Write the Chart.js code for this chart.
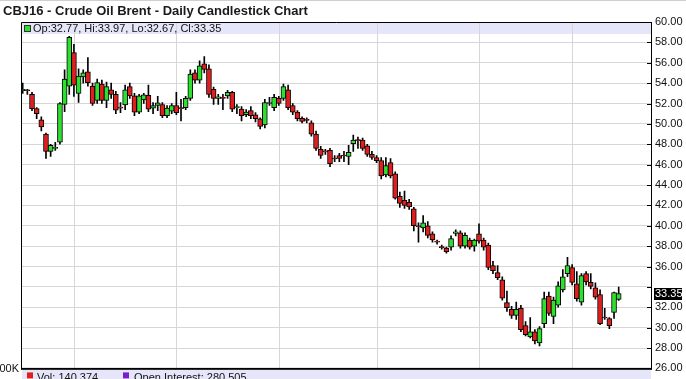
<!DOCTYPE html>
<html><head><meta charset="utf-8">
<script src="https://cdn.jsdelivr.net/npm/chart.js@4.4.1/dist/chart.umd.min.js"></script>
<style>html,body{margin:0;padding:0;background:#fff;overflow:hidden}#wrap{width:686px;height:379px;position:relative}</style>
</head><body><div id="wrap"><canvas id="c" width="686" height="379"></canvas></div>
<script>
const chartTitle = 'CBJ16 - Crude Oil Brent - Daily Candlestick Chart';
const opens = [53.25,53.3,52.9,51.5,50.4,49.0,47.3,47.6,48.2,51.9,53.7,57.0,53.0,54.6,55.1,53.7,52.3,53.9,52.3,53.35,52.9,51.65,51.85,53.65,52.75,
51.15,52.35,52.8,51.55,51.8,51.9,50.8,51.25,51.8,51.55,51.6,52.5,55.0,54.3,55.9,55.4,53.4,52.5,52.55,52.75,53.1,51.6,51.45,50.9,51.3,50.9,50.5,
49.9,52.0,51.6,52.5,52.5,53.35,51.8,51.15,50.55,50.4,50.1,49.0,47.5,47.3,47.4,46.6,46.9,46.9,46.8,48.05,48.4,48.4,47.85,47.0,46.7,46.4,
45.0,46.2,45.1,42.9,42.5,42.3,41.65,39.95,39.8,40.0,39.2,38.45,37.95,37.8,37.9,39.25,39.3,38.0,38.6,38.0,39.2,38.6,38.1,36.1,
35.4,34.7,32.45,31.8,31.2,31.9,30.2,29.1,29.6,28.5,30.4,33.1,31.1,32.2,33.7,35.3,35.9,34.3,32.5,35.3,34.45,33.9,33.25,31.0,30.9,31.5,32.77];
const highs = [54.0,53.4,53.1,51.6,50.7,49.1,48.0,48.2,52.1,55.3,58.6,57.8,55.4,55.3,56.5,54.0,54.4,54.3,54.1,54.0,53.2,52.1,53.8,54.0,53.0,
52.9,53.0,53.8,52.1,52.7,52.1,51.8,52.0,53.1,52.4,52.7,55.3,55.3,56.2,56.6,55.8,53.6,52.9,52.9,53.3,53.2,51.9,51.7,51.4,51.7,51.1,50.6,
52.4,52.6,52.9,52.7,53.9,53.8,52.0,51.3,50.7,50.6,50.3,49.3,47.8,47.5,47.6,46.9,47.1,47.3,47.9,48.9,48.7,48.6,48.0,47.3,46.9,46.7,
46.7,46.6,45.3,43.3,43.4,42.6,41.8,40.3,41.0,40.4,39.4,38.6,38.1,37.9,39.0,39.6,39.5,39.3,38.8,38.7,40.2,38.8,38.3,36.5,
36.1,35.0,33.6,32.1,32.5,32.2,30.6,31.0,29.8,30.1,33.5,33.5,33.0,34.5,35.7,36.9,36.2,35.5,35.3,35.5,35.3,34.4,33.7,31.9,31.0,33.5,33.97];
const lows = [53.0,52.9,51.3,50.5,49.3,46.6,46.8,47.4,48.0,51.2,52.9,52.7,52.1,54.0,53.7,51.8,52.0,52.0,51.6,52.5,51.0,51.1,51.4,52.5,50.8,
51.0,52.0,51.2,51.0,51.3,50.6,50.6,51.0,50.9,50.3,51.4,52.3,54.0,54.0,55.0,52.6,51.9,51.9,51.4,52.5,51.2,51.0,50.3,50.7,50.5,50.2,49.5,
49.6,51.8,51.3,51.8,52.3,51.4,50.9,50.3,50.1,50.1,48.8,47.4,46.6,47.0,45.8,46.3,46.3,46.3,46.0,47.3,47.6,47.4,46.8,46.5,46.2,44.6,
44.8,44.7,42.6,41.8,41.7,41.6,39.5,38.4,39.4,38.8,38.4,38.2,37.7,37.3,37.6,39.0,37.8,37.8,37.7,37.5,38.3,37.6,35.7,35.3,
34.7,32.7,31.6,30.9,30.8,29.6,29.2,29.0,28.4,28.2,30.0,31.2,30.4,32.0,33.5,35.0,34.2,32.6,32.2,34.2,33.8,32.8,30.3,30.8,29.9,30.9,32.67];
const closes = [53.4,53.25,51.5,51.0,49.7,47.3,47.9,47.7,52.0,54.4,58.5,53.8,54.7,55.0,54.05,52.0,54.05,52.3,53.65,52.9,51.35,51.55,53.35,52.75,51.15,
52.75,52.85,51.45,51.8,52.07,50.8,51.55,51.8,51.1,51.5,52.5,54.9,54.3,55.7,55.35,52.9,52.5,52.65,52.5,53.1,51.45,51.6,50.8,51.15,50.8,50.5,49.75,
52.1,52.05,52.6,52.0,53.65,51.6,51.15,50.5,50.25,50.35,49.0,47.6,46.9,47.25,46.1,46.55,46.6,46.85,47.2,48.4,48.35,47.6,47.0,46.7,46.4,44.9,
45.9,44.9,42.7,42.2,42.0,41.85,40.0,39.9,40.3,39.05,38.6,38.4,37.85,37.45,38.75,39.4,38.0,39.05,37.9,38.6,38.5,37.9,35.9,35.6,
34.9,32.9,31.95,31.2,31.8,29.8,29.3,29.6,28.7,29.9,32.85,31.4,32.7,34.1,35.0,36.1,34.45,32.85,35.1,34.5,34.05,33.0,30.4,30.95,30.2,33.45,33.35];
const monthStarts = [11,33,55,76,98,118];
const yMin = 26, yMax = 60, yStep = 2;
const volumeLabel = 'Vol: 140,374';
const oiLabel = 'Open Interest: 280,505';
const volAxisLabel = '00K';

const GREEN = '#2ee02e', RED = '#e01e1e', BAND = '#e6e6fa', GRID = '#d6d6d6';
const FONT = '"Liberation Sans", Arial, sans-serif';
const n = closes.length;
const last = n - 1;
const ohlcText = 'Op:' + opens[last].toFixed(2) + ', Hi:' + highs[last].toFixed(2) + ', Lo:' + lows[last].toFixed(2) + ', Cl:' + closes[last].toFixed(2);

const bodies = opens.map((o, i) => ({x: i, y: [o, closes[i]]}));
const wicks = lows.map((l, i) => ({x: i, y: [l, highs[i]]}));
const bodyColors = opens.map((o, i) => closes[i] >= o ? GREEN : RED);

const deco = {
  id: 'deco',
  beforeDraw(chart) {
    const ctx = chart.ctx, a = chart.chartArea;
    ctx.save();
    ctx.fillStyle = '#fff';
    ctx.fillRect(0, 0, chart.width, chart.height);
    ctx.strokeStyle = '#cfcfcf';
    ctx.lineWidth = 1;
    ctx.beginPath(); ctx.moveTo(0, 0.5); ctx.lineTo(chart.width, 0.5); ctx.stroke();
    ctx.fillStyle = '#1a1a1a';
    ctx.font = 'bold 13px ' + FONT;
    ctx.textBaseline = 'alphabetic';
    ctx.textAlign = 'left';
    ctx.fillText(chartTitle, 3, 15);
    ctx.fillStyle = BAND;
    ctx.fillRect(a.left, a.top, a.right - a.left, 12);
    ctx.restore();
  },
  beforeDatasetsDraw(chart) {
    const ctx = chart.ctx, a = chart.chartArea, xs = chart.scales.x;
    ctx.save();
    ctx.strokeStyle = GRID;
    ctx.lineWidth = 1;
    ctx.beginPath();
    monthStarts.forEach(v => {
      const x = Math.round(xs.getPixelForValue(v)) + 0.5;
      ctx.moveTo(x, a.top); ctx.lineTo(x, a.bottom);
    });
    ctx.stroke();
    ctx.restore();
  },
  afterDraw(chart) {
    const ctx = chart.ctx, a = chart.chartArea, ys = chart.scales.y;
    ctx.save();
    ctx.strokeStyle = '#000';
    ctx.lineWidth = 1;
    ctx.beginPath();
    ctx.moveTo(a.left + 0.5, a.bottom); ctx.lineTo(a.left + 0.5, a.top + 0.5); ctx.lineTo(a.right, a.top + 0.5);
    ctx.stroke();
    ctx.beginPath();
    for (let v = yMin; v <= yMax; v += yStep) {
      const y = Math.round(ys.getPixelForValue(v)) + 0.5;
      ctx.moveTo(a.right - 4, y); ctx.lineTo(a.right, y);
    }
    ctx.stroke();
    ctx.fillStyle = GREEN;
    ctx.fillRect(a.left + 3.5, a.top + 3.5, 6, 6);
    ctx.strokeStyle = '#333';
    ctx.strokeRect(a.left + 3.5, a.top + 3.5, 6, 6);
    ctx.fillStyle = '#111';
    ctx.font = '11px ' + FONT;
    ctx.textBaseline = 'middle';
    ctx.fillText(ohlcText, a.left + 12, a.top + 6.5);
    const ly = ys.getPixelForValue(closes[last]);
    ctx.fillStyle = '#000';
    ctx.fillRect(a.right + 3, Math.round(ly) - 6, 28, 12);
    ctx.fillStyle = '#fff';
    ctx.textAlign = 'left';
    ctx.fillText(closes[last].toFixed(2), a.right + 4, ly + 0.5);
    ctx.fillStyle = '#000';
    ctx.fillRect(a.left, a.bottom - 0.5, a.right - a.left + 1, 2);
    ctx.fillStyle = BAND;
    ctx.fillRect(a.left + 1, a.bottom + 1.5, a.right - a.left - 1, chart.height - a.bottom);
    ctx.fillStyle = RED;
    ctx.fillRect(a.left + 6, a.bottom + 4, 6, 6);
    ctx.fillStyle = '#7a1fd0';
    ctx.fillRect(a.left + 102, a.bottom + 4, 6, 6);
    ctx.fillStyle = '#111';
    ctx.textBaseline = 'top';
    ctx.fillText(volumeLabel, a.left + 16, a.bottom + 4.5);
    ctx.fillText(oiLabel, a.left + 113, a.bottom + 4.5);
    ctx.textAlign = 'right';
    ctx.textBaseline = 'middle';
    ctx.fillText(volAxisLabel, a.left - 2, a.bottom + 1);
    ctx.restore();
  }
};

new Chart(document.getElementById('c'), {
  type: 'bar',
  data: {
    datasets: [
      {label: 'body', data: bodies, backgroundColor: bodyColors, borderColor: '#000', borderWidth: 1,
       borderSkipped: false, barThickness: 5, minBarLength: 1, grouped: false},
      {label: 'wick', data: wicks, backgroundColor: '#000', borderWidth: 0, barThickness: 1, grouped: false}
    ]
  },
  options: {
    responsive: false,
    animation: false,
    devicePixelRatio: 1,
    layout: {padding: {top: 22, left: 21, right: 0, bottom: 7}},
    plugins: {legend: {display: false}, tooltip: {enabled: false}, title: {display: false}},
    scales: {
      x: {
        type: 'linear', min: -0.365, max: 134.94, offset: false,
        afterFit: (s) => { s.height = 0; },
        ticks: {display: false},
        grid: {display: false, drawTicks: false},
        border: {display: false}
      },
      y: {
        position: 'right', min: yMin, max: yMax,
        afterFit: (s) => { s.width = 35; },
        ticks: {
          stepSize: yStep, padding: 4, color: '#111', font: {family: FONT, size: 11},
          callback: (v) => Math.abs(v - closes[last]) < 1.2 ? '' : Number(v).toFixed(2)
        },
        grid: {color: GRID, drawTicks: false},
        border: {color: '#000', width: 1}
      }
    }
  },
  plugins: [deco]
});
</script></body></html>
